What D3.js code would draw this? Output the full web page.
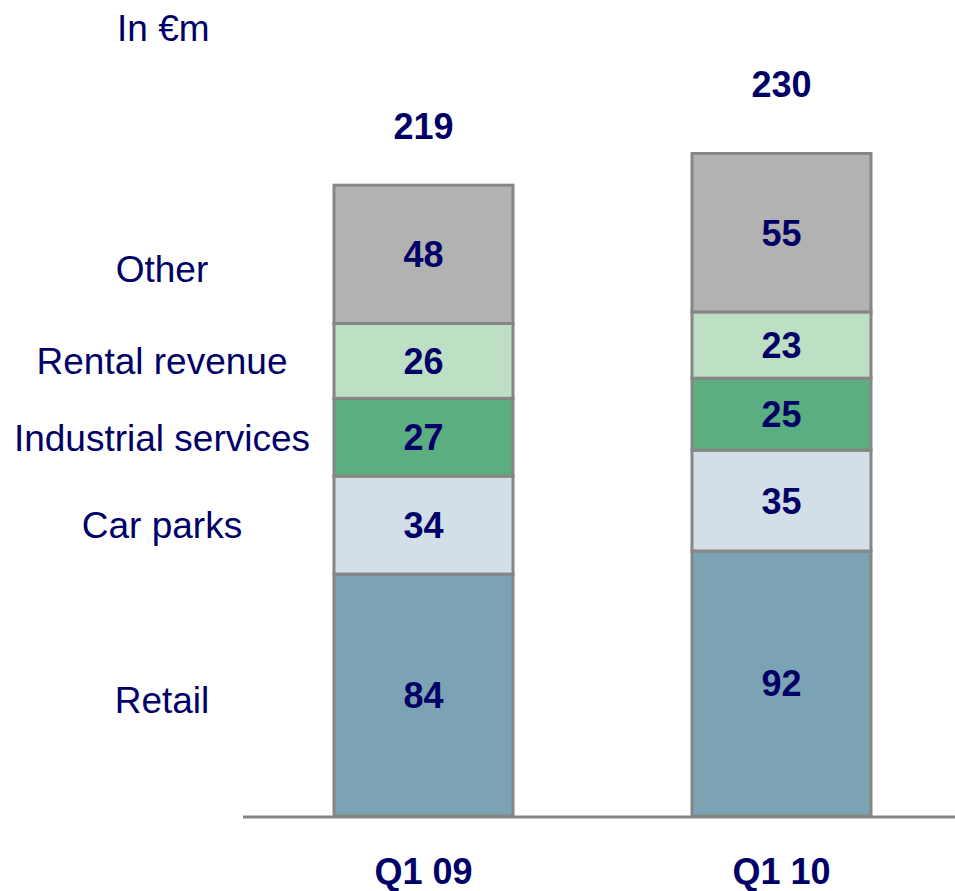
<!DOCTYPE html>
<html>
<head>
<meta charset="utf-8">
<script src="https://cdn.jsdelivr.net/npm/d3@7"></script>
<style>
  body { margin: 0; background: #fff; }
  text { font-family: "Liberation Sans", Arial, sans-serif; }
</style>
</head>
<body>
<script>
var quarters = ['Q1 09', 'Q1 10'];
var segments = ['Retail', 'Car parks', 'Industrial services', 'Rental revenue', 'Other'];
var retail = [84, 92];
var carParks = [34, 35];
var industrial = [27, 25];
var rental = [26, 23];
var other = [48, 55];
var totals = [219, 230];
var colors = ['#7ba3b4', '#d3dfe6', '#5aae80', '#bde0c4', '#b2b2b2'];

var w = 955, h = 891;
var ink = '#000066';

var svg = d3.select('body').append('svg')
    .attr('width', w)
    .attr('height', h);

// one row per quarter, stacked from the bottom
var rows = quarters.map(function(q, i) {
    return {
        q: q,
        'Retail': retail[i],
        'Car parks': carParks[i],
        'Industrial services': industrial[i],
        'Rental revenue': rental[i],
        'Other': other[i]
    };
});
var stack = d3.stack().keys(segments)(rows);

var x = d3.scaleBand()
    .domain(quarters)
    .range([244.5, 960.5])
    .paddingInner(0.5)
    .paddingOuter(0.25);

var y = d3.scaleLinear()
    .domain([0, 230])
    .range([816, 153.5]);

var layers = svg.selectAll('g.layer')
    .data(stack)
    .enter()
    .append('g')
    .attr('class', 'layer')
    .attr('fill', function(d, i) { return colors[i]; });

layers.selectAll('rect')
    .data(function(d) { return d; })
    .enter()
    .append('rect')
    .attr('x', function(d) { return x(d.data.q); })
    .attr('y', function(d) { return y(d[1]); })
    .attr('width', x.bandwidth())
    .attr('height', function(d) { return y(d[0]) - y(d[1]); })
    .attr('stroke', '#868686')
    .attr('stroke-width', 3);

// values inside segments
layers.selectAll('text')
    .data(function(d) { return d; })
    .enter()
    .append('text')
    .text(function(d) { return d[1] - d[0]; })
    .attr('x', function(d) { return x(d.data.q) + x.bandwidth() / 2; })
    .attr('y', function(d) { return (y(d[0]) + y(d[1])) / 2; })
    .attr('dy', '0.36em')
    .attr('text-anchor', 'middle')
    .attr('font-size', '36px')
    .attr('font-weight', 'bold')
    .attr('fill', ink);

// baseline
svg.append('line')
    .attr('x1', 243).attr('x2', w)
    .attr('y1', y(0) + 1).attr('y2', y(0) + 1)
    .attr('stroke', '#868686')
    .attr('stroke-width', 3);

// totals above bars
svg.selectAll('text.total')
    .data(totals)
    .enter()
    .append('text')
    .attr('class', 'total')
    .text(function(d) { return d; })
    .attr('x', function(d, i) { return x(quarters[i]) + x.bandwidth() / 2; })
    .attr('y', function(d, i) { return y(d) - (i === 0 ? 46 : 57); })
    .attr('text-anchor', 'middle')
    .attr('font-size', '36px')
    .attr('font-weight', 'bold')
    .attr('fill', ink);

// quarter labels
svg.selectAll('text.cat')
    .data(quarters)
    .enter()
    .append('text')
    .attr('class', 'cat')
    .text(function(d) { return d; })
    .attr('x', function(d) { return x(d) + x.bandwidth() / 2; })
    .attr('y', 884)
    .attr('text-anchor', 'middle')
    .attr('font-size', '36px')
    .attr('font-weight', 'bold')
    .attr('fill', ink);

// segment names on the left, lined up with the first bar
var nudge = { 'Other': 14, 'Retail': 5 };
svg.selectAll('text.seg')
    .data(stack)
    .enter()
    .append('text')
    .attr('class', 'seg')
    .text(function(d) { return d.key; })
    .attr('x', 162)
    .attr('y', function(d) { return (y(d[0][0]) + y(d[0][1])) / 2 + (nudge[d.key] || 0); })
    .attr('dy', '0.36em')
    .attr('text-anchor', 'middle')
    .attr('font-size', '37px')
    .attr('fill', ink);

svg.append('text')
    .text('In €m')
    .attr('x', 117)
    .attr('y', 41)
    .attr('font-size', '37px')
    .attr('fill', ink);
</script>
</body>
</html>
